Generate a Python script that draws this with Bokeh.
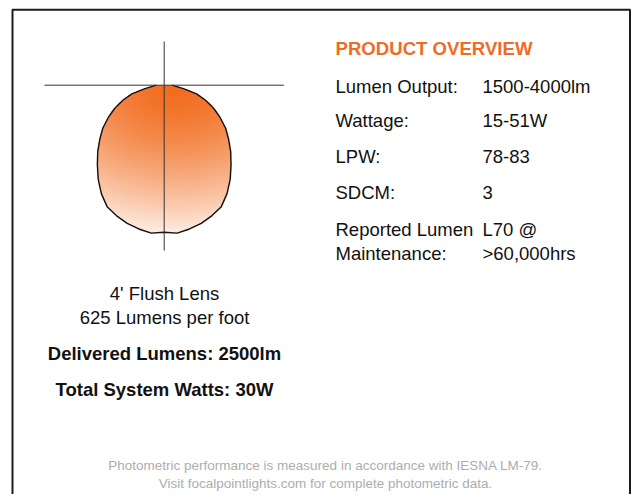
import numpy as np
from bokeh.plotting import figure
from bokeh.models import Range1d
from bokeh.embed import file_html
from bokeh.resources import INLINE
from bokeh.core.properties import value

# ---------------- data ----------------
# photometric distribution (angle from nadir, relative candela)
angles_deg = [0, 5, 10, 15, 20, 25, 30, 35, 40, 45, 50, 55, 60, 65, 70, 75, 80, 85, 90]
candela = [1470, 1485, 1460, 1430, 1390, 1345, 1255, 1150, 1040, 940, 840, 750,
           645, 545, 440, 335, 195, 110, 80]

overview_title = "PRODUCT OVERVIEW"
spec_labels = ["Lumen Output:", "Wattage:", "LPW:", "SDCM:", "Reported Lumen", "Maintenance:"]
spec_values = ["1500-4000lm", "15-51W", "78-83", "3", "L70 @", ">60,000hrs"]

lens_lines = ["4' Flush Lens", "625 Lumens per foot"]
bold_lines = ["Delivered Lumens: 2500lm", "Total System Watts: 30W"]
footer_lines = ["Photometric performance is measured in accordance with IESNA LM-79.",
                "Visit focalpointlights.com for complete photometric data."]

# ---------------- layout helpers ----------------
W, H = 631, 494
def Y(page_y):
    return H - page_y

FONT = value("Liberation Sans")

p = figure(width=W, height=H, output_backend="svg", toolbar_location=None,
           x_range=Range1d(0, W), y_range=Range1d(0, H), min_border=0)
p.axis.visible = False
p.grid.visible = False
p.outline_line_color = None
p.background_fill_color = "white"
p.border_fill_color = "white"

# frame (left, top, right; bottom lies outside view)
p.line(x=[12, 12, 629.5, 629.5], y=[Y(530), Y(9.2), Y(9.2), Y(530)],
       line_color="#1c1c1c", line_width=2)

# ---------------- polar photometric plot ----------------
cx, cy = 163.7, Y(84.7)
scale = 0.1
ang = np.radians(np.array(angles_deg, dtype=float))
rad = np.array(candela, dtype=float) * scale

ang_full = np.concatenate([-ang[::-1], ang[1:]])
rad_full = np.concatenate([rad[::-1], rad[1:]])
px = cx + rad_full * np.sin(ang_full)
py = cy - rad_full * np.cos(ang_full)

# gradient fill as masked image
res = 3
x0, x1 = cx - 80, cx + 80
y0, y1 = cy - 160, cy + 5
nx, ny = int((x1 - x0) * res), int((y1 - y0) * res)
xs = x0 + (np.arange(nx) + 0.5) / res
ys = y0 + (np.arange(ny) + 0.5) / res
XX, YY = np.meshgrid(xs, ys)
dx = XX - cx
dy = cy - YY
theta = np.degrees(np.arctan2(np.abs(dx), dy))
rr = np.hypot(dx, dy)
limit = np.interp(theta, angles_deg, rad)
inside = (theta <= 90.5) & (rr <= limit + 0.8)

t = np.sqrt(((dx - 12) / 200.0) ** 2 + (dy / 150.0) ** 2)
t = np.clip(t, 0, 1) ** 1.5
c0 = np.array([242, 108, 30], dtype=float)
c1 = np.array([254, 241, 232], dtype=float)
img = np.zeros((ny, nx), dtype=np.uint32)
view = img.view(dtype=np.uint8).reshape((ny, nx, 4))
for k in range(3):
    view[:, :, k] = (c0[k] + (c1[k] - c0[k]) * t).astype(np.uint8)
view[:, :, 3] = np.where(inside, 255, 0).astype(np.uint8)
p.image_rgba(image=[img], x=x0, y=y0, dw=x1 - x0, dh=y1 - y0)

p.line(x=px, y=py, line_color="#111111", line_width=1.4)

# crosshair
p.line(x=[44, 283.3], y=[cy, cy], line_color="#333333", line_width=1)
p.line(x=[cx, cx], y=[Y(41), Y(250)], line_color="#333333", line_width=1)

# ---------------- texts ----------------
big_shift = 7.5
small_shift = 3.5
p.text(x=[335], y=[Y(56 - big_shift - 0.5)], text=[overview_title], text_font=FONT,
       text_font_size="18.6px", text_font_style="bold", text_color="#F26B25",
       text_baseline="alphabetic", text_align="left")

row_base = [93.3, 127.3, 163, 199, 236, 260.5]
p.text(x=[335] * len(spec_labels), y=[Y(b - big_shift) for b in row_base], text=spec_labels,
       text_font=FONT, text_font_size="18.5px", text_color="#111111",
       text_baseline="alphabetic", text_align="left")
p.text(x=[482] * len(spec_values), y=[Y(b - big_shift) for b in row_base], text=spec_values,
       text_font=FONT, text_font_size="18.5px", text_color="#111111",
       text_baseline="alphabetic", text_align="left")

p.text(x=[164, 164], y=[Y(300 - big_shift), Y(324.3 - big_shift)], text=lens_lines,
       text_font=FONT, text_font_size="18.5px", text_color="#111111",
       text_baseline="alphabetic", text_align="center")
p.text(x=[164, 164], y=[Y(360.7 - big_shift), Y(396 - big_shift)], text=bold_lines,
       text_font=FONT, text_font_size="18.5px", text_font_style="bold", text_color="#111111",
       text_baseline="alphabetic", text_align="center")

p.text(x=[325, 325], y=[Y(468.3 - small_shift), Y(486.7 - small_shift)], text=footer_lines,
       text_font=FONT, text_font_size="13.5px", text_color="#ADADAD",
       text_baseline="alphabetic", text_align="center")

open("out.html", "w").write(file_html(p, INLINE))
